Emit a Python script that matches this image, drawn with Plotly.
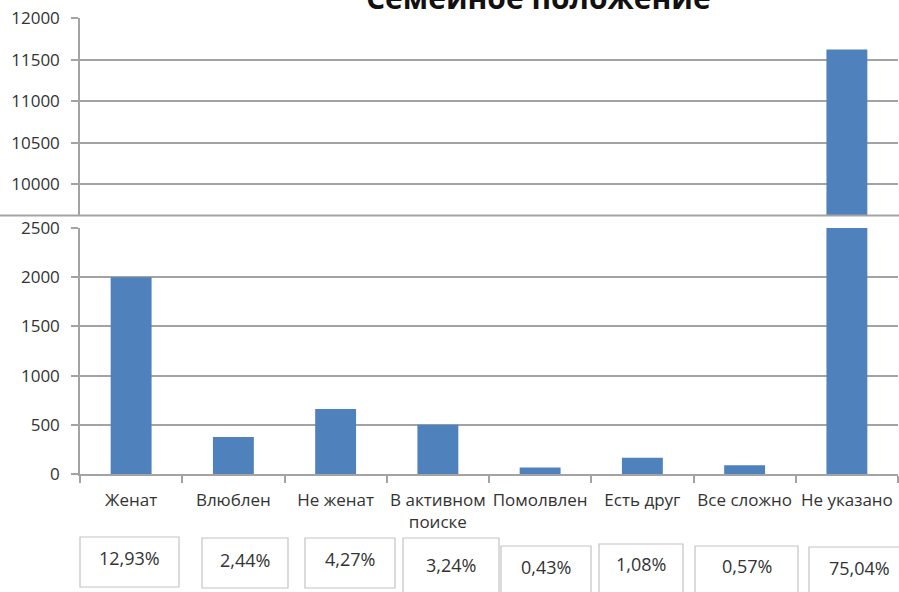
import plotly.graph_objects as go

# ---- data ----
CATEGORIES = ["Женат", "Влюблен", "Не женат", "В активном поиске",
              "Помолвлен", "Есть друг", "Все сложно", "Не указано"]
TICK_LABELS = ["Женат", "Влюблен", "Не женат", "В активном<br>поиске",
               "Помолвлен", "Есть друг", "Все сложно", "Не указано"]
COUNTS = [2000, 375, 660, 500, 67, 165, 88, 11620]
PERCENTS = ["12,93%", "2,44%", "4,27%", "3,24%", "0,43%", "1,08%", "0,57%", "75,04%"]
UPPER_TICKS = [10000, 10500, 11000, 11500, 12000]
LOWER_TICKS = [0, 500, 1000, 1500, 2000, 2500]

# ---- layout constants (pixels) ----
W, H = 899, 592
ML, MR, MT, MB = 80, 1, 18, 118
PW, PH = W - ML - MR, H - MT - MB
BAR_COLOR = "#4f81bd"
GRID = "#a3a3a3"
TXT = "#333333"
FONT = "Open Sans"

def px_y(py):
    return (H - MB - py) / PH

def px_x(px):
    return (px - ML) / PW

UPPER_DOMAIN = [px_y(215.5), 1.0]
LOWER_DOMAIN = [0.0, px_y(228)]

# percentage boxes: left, right, top, bottom, text-centre y (pixels)
BOX_PX = [(80, 179, 537, 587, 558), (202, 288, 538, 588, 560),
          (305, 395, 538, 588, 559), (403, 499, 538, 600, 565),
          (501, 591, 546, 600, 567), (599, 683, 544, 600, 564),
          (695, 798, 546, 600, 566), (809, 910, 547, 600, 568)]

fig = go.Figure()
for ax in ("y", "y2"):
    fig.add_trace(go.Bar(
        x=CATEGORIES, y=COUNTS, width=0.4,
        marker=dict(color=BAR_COLOR, line=dict(width=0)),
        xaxis="x" if ax == "y" else "x2", yaxis=ax,
        showlegend=False, hoverinfo="x+y"))

axis_common = dict(gridcolor=GRID, gridwidth=1.5, showline=True,
                   linecolor=GRID, linewidth=1.5, ticks="outside",
                   ticklen=7, tickcolor=GRID, tickwidth=1.5,
                   tickfont=dict(family=FONT, size=17, color=TXT),
                   zeroline=False, ticklabelstandoff=8, automargin=False)

fig.update_layout(
    width=W, height=H,
    margin=dict(l=ML, r=MR, t=MT, b=MB, autoexpand=False),
    paper_bgcolor="white", plot_bgcolor="white",
    bargap=0.6,
    xaxis=dict(domain=[0, 1], anchor="y", showticklabels=False,
               ticks="", showline=False, showgrid=False,
               categoryorder="array", categoryarray=CATEGORIES,
               range=[-0.5, 7.5], automargin=False),
    xaxis2=dict(domain=[0, 1], anchor="y2", matches="x",
                tickmode="array", tickvals=CATEGORIES, ticktext=TICK_LABELS,
                tickson="boundaries", ticks="outside", ticklen=7,
                tickcolor=GRID, tickwidth=1.5, showline=True,
                linecolor=GRID, linewidth=1.5, showgrid=False,
                tickangle=0,
                tickfont=dict(family=FONT, size=17, color=TXT),
                ticklabelstandoff=10, automargin=False),
    yaxis=dict(domain=UPPER_DOMAIN, range=[9626, 12000],
               tickmode="array", tickvals=UPPER_TICKS,
               ticktext=[str(v) for v in UPPER_TICKS], **axis_common),
    yaxis2=dict(domain=LOWER_DOMAIN, range=[0, 2500],
                tickmode="array", tickvals=LOWER_TICKS,
                ticktext=[str(v) for v in LOWER_TICKS], **axis_common),
)

shapes = [dict(type="line", xref="paper", yref="paper",
               x0=px_x(0), x1=px_x(W + 2), y0=px_y(215.5), y1=px_y(215.5),
               line=dict(color=GRID, width=2), layer="above")]
annotations = [dict(text="<b>Семейное положение</b>", xref="paper", yref="paper",
                    x=px_x(538), y=px_y(20), xanchor="center", yanchor="bottom",
                    showarrow=False,
                    font=dict(family=FONT, size=30, color="#111"))]
for (l, r, t, b, ty), label in zip(BOX_PX, PERCENTS):
    shapes.append(dict(type="rect", xref="paper", yref="paper",
                       x0=px_x(l), x1=px_x(r), y0=px_y(b), y1=px_y(t),
                       line=dict(color="#c4c4c4", width=1.2),
                       fillcolor="rgba(0,0,0,0)"))
    annotations.append(dict(text=label, xref="paper", yref="paper",
                            x=px_x((l + r) / 2), y=px_y(ty),
                            xanchor="center", yanchor="middle",
                            showarrow=False,
                            font=dict(family=FONT, size=18, color=TXT)))

fig.update_layout(shapes=shapes, annotations=annotations)
fig.write_html("out.html",
               config={"displayModeBar": False},
               post_script="document.body.style.margin='0px';"
                           "document.body.style.overflow='hidden';")
